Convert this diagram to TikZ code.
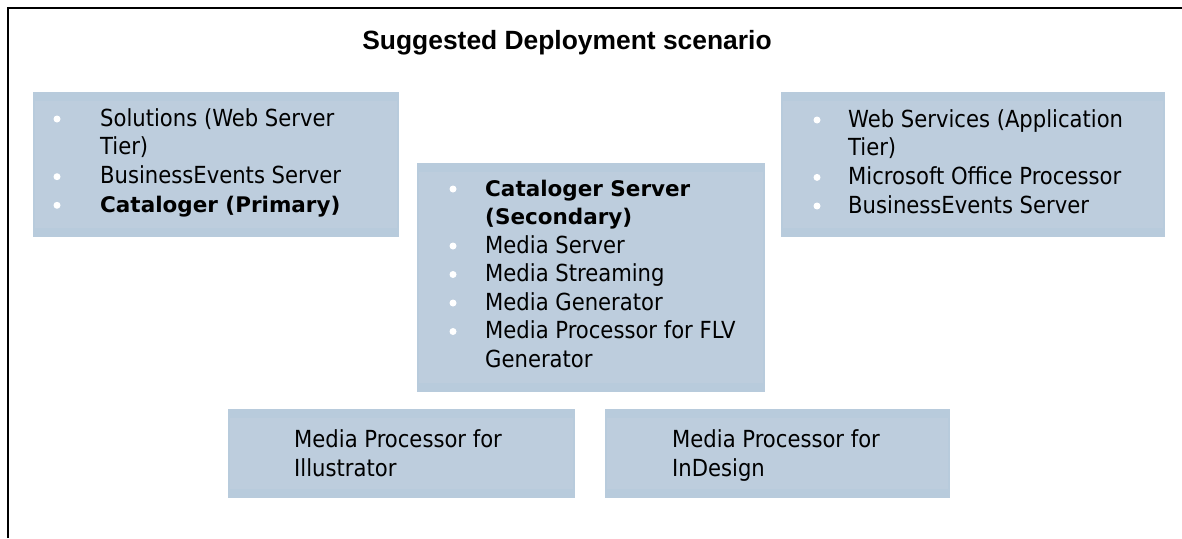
\documentclass[tikz,border=0pt]{standalone}
\usepackage{fontspec}
\setmainfont{DejaVu Sans Condensed}
\newfontfamily\titlefont{Liberation Sans}
\newfontfamily\bfont{DejaVu Sans}
\definecolor{boxband}{HTML}{B8CBDC}
\definecolor{boxfill}{HTML}{BDCDDD}
\tikzset{
  box/.style={fill=boxband, inner sep=0pt, anchor=north west,
    path picture={\fill[boxfill] ([xshift=2pt,yshift=-9pt]path picture bounding box.north west) rectangle ([xshift=-2pt,yshift=9pt]path picture bounding box.south east);}},
  item/.style={anchor=base west, inner sep=0pt, font=\fontsize{23.5pt}{28pt}\selectfont, text=black},
  bolditem/.style={anchor=base west, inner sep=0pt, font=\fontsize{21.5pt}{28pt}\bfont\bfseries, text=black},
  dot/.style={circle, fill=white, inner sep=0pt, minimum size=7pt},
  ttl/.style={anchor=base, inner sep=0pt, font=\fontsize{26.4pt}{30pt}\titlefont\bfseries}
}
\begin{document}
\begin{tikzpicture}[x=1pt,y=-1pt]
\useasboundingbox (0,0) rectangle (1182,538);
\fill[white] (0,0) rectangle (1182,538);
% frame
\coordinate (ftl) at (8,8);
\coordinate (ftr) at (1182,8);
\coordinate (fbl) at (8,538);
\draw[line width=2.6pt] (fbl) -- (ftl) -- (ftr);
% title
\node[ttl] (title) at (567,49) {Suggested Deployment scenario};
% boxes
\node[box, minimum width=366pt, minimum height=145pt] (A) at (33,92) {};
\node[box, minimum width=348pt, minimum height=229pt] (B) at (417,163) {};
\node[box, minimum width=384pt, minimum height=145pt] (C) at (781,92) {};
\node[box, minimum width=347pt, minimum height=89pt] (D) at (228,409) {};
\node[box, minimum width=345pt, minimum height=89pt] (E) at (605,409) {};
% box A
\node[dot] (a1d) at (57,119) {};
\node[item] (a1) at (100,126) {Solutions (Web Server};
\node[item] (a2) at (100,154.7) {Tier)};
\node[dot] (a3d) at (57,176.7) {};
\node[item] (a3) at (100,183.4) {BusinessEvents Server};
\node[dot] (a4d) at (57,205.3) {};
\node[bolditem] (a4) at (100,212) {Cataloger (Primary)};
% box B
\node[dot] (b1d) at (453,189) {};
\node[bolditem] (b1) at (485,196) {Cataloger Server};
\node[bolditem] (b2) at (485,224.5) {(Secondary)};
\node[dot] (b3d) at (453,246) {};
\node[item] (b3) at (485,253) {Media Server};
\node[dot] (b4d) at (453,274.5) {};
\node[item] (b4) at (485,281.5) {Media Streaming};
\node[dot] (b5d) at (453,303) {};
\node[item] (b5) at (485,310) {Media Generator};
\node[dot] (b6d) at (453,331.5) {};
\node[item] (b6) at (485,338.5) {Media Processor for FLV};
\node[item] (b7) at (485,367) {Generator};
% box C
\node[dot] (c1d) at (817,120) {};
\node[item] (c1) at (848,127) {Web Services (Application};
\node[item] (c2) at (848,155.7) {Tier)};
\node[dot] (c3d) at (817,177.4) {};
\node[item] (c3) at (848,184.4) {Microsoft Office Processor};
\node[dot] (c4d) at (817,206) {};
\node[item] (c4) at (848,213) {BusinessEvents Server};
% box D, E
\node[item] (d1) at (294,447) {Media Processor for};
\node[item] (d2) at (294,476) {Illustrator};
\node[item] (e1) at (672,447) {Media Processor for};
\node[item] (e2) at (672,476) {InDesign};
\end{tikzpicture}
\end{document}
